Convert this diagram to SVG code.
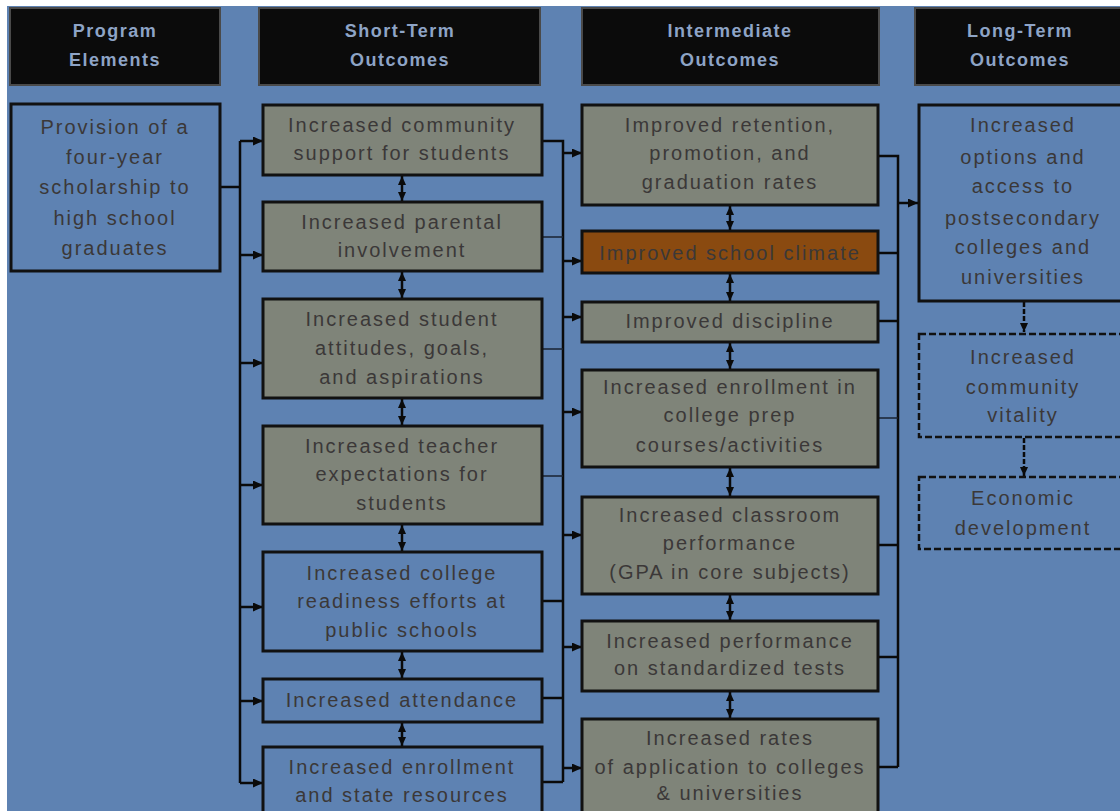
<svg xmlns="http://www.w3.org/2000/svg" width="1120" height="811" viewBox="0 0 1120 811">
<defs>
<marker id="ah" markerUnits="userSpaceOnUse" markerWidth="10" markerHeight="9" viewBox="0 0 10 9" refX="10" refY="4.5" orient="auto-start-reverse"><path d="M0,0 L10,4.5 L0,9 z" fill="#0a0a0a"/></marker>
<marker id="sh" markerUnits="userSpaceOnUse" markerWidth="9" markerHeight="8" viewBox="0 0 9 8" refX="9" refY="4" orient="auto-start-reverse"><path d="M0,0 L9,4 L0,8 z" fill="#0a0a0a"/></marker>
</defs>
<style>
.hd{fill:#0b0b0b;stroke:#4a4a4a;stroke-width:2}
.ht{font-family:"Liberation Sans",Arial,sans-serif;font-weight:bold;font-size:18px;letter-spacing:1.5px;fill:#8ea4c6;text-anchor:middle}
.gb{fill:#7f8479;stroke:#111;stroke-width:3}
.bb{fill:#5e82b2;stroke:#111;stroke-width:3}
.ob{fill:#8a4a10;stroke:#111;stroke-width:3}
.db{fill:#5e82b2;stroke:#111;stroke-width:2.5;stroke-dasharray:7 3}
.t{font-family:"Liberation Sans",Arial,sans-serif;font-size:20px;letter-spacing:2px;fill:#3b3838;text-anchor:middle}
.c{fill:none;stroke:#0a0a0a;stroke-width:2.5}
.cn{fill:none;stroke:#1a2230;stroke-width:1.5}
.a{marker-end:url(#ah)}
.bi{fill:none;stroke:#0a0a0a;stroke-width:2.5;marker-start:url(#sh);marker-end:url(#sh)}
.dd{fill:none;stroke:#0a0a0a;stroke-width:2.5;stroke-dasharray:5 2;marker-end:url(#sh)}
</style>
<rect x="0" y="0" width="1120" height="811" fill="#5e82b2"/>
<rect x="0" y="0" width="1120" height="6" fill="#ffffff"/>
<rect x="0" y="0" width="7" height="811" fill="#ffffff"/>

<g id="headers">
<g id="h-program"><rect class="hd" x="10" y="8" width="210" height="77"/><text class="ht" x="115" y="37">Program</text><text class="ht" x="115" y="66">Elements</text></g>
<g id="h-short"><rect class="hd" x="259" y="8" width="281" height="77"/><text class="ht" x="400" y="37">Short-Term</text><text class="ht" x="400" y="66">Outcomes</text></g>
<g id="h-inter"><rect class="hd" x="582" y="8" width="297" height="77"/><text class="ht" x="730" y="37">Intermediate</text><text class="ht" x="730" y="66">Outcomes</text></g>
<g id="h-long"><rect class="hd" x="915" y="8" width="210" height="77"/><text class="ht" x="1020" y="37">Long-Term</text><text class="ht" x="1020" y="66">Outcomes</text></g>
</g>

<g id="connectors">
<path class="c" d="M220,187 H240"/>
<path class="c" d="M240,141 V783"/>
<path class="c a" d="M240,141 H263"/>
<path class="c a" d="M240,255 H263"/>
<path class="c a" d="M240,363 H263"/>
<path class="c a" d="M240,485 H263"/>
<path class="c a" d="M240,607 H263"/>
<path class="c a" d="M240,701 H263"/>
<path class="c a" d="M240,783 H263"/>

<path class="c" d="M542,141 H563 V782"/>
<path class="cn" d="M542,237 H563"/>
<path class="cn" d="M542,349 H563"/>
<path class="cn" d="M542,476 H563"/>
<path class="c" d="M542,601 H563"/>
<path class="c" d="M542,698 H563"/>
<path class="c" d="M542,782 H563"/>
<path class="c a" d="M563,153 H582"/>
<path class="c a" d="M563,261 H582"/>
<path class="c a" d="M563,317 H582"/>
<path class="c a" d="M563,412 H582"/>
<path class="c a" d="M563,535 H582"/>
<path class="c a" d="M563,647 H582"/>
<path class="c a" d="M563,768 H582"/>

<path class="c" d="M878,156 H898 V767"/>
<path class="c" d="M878,253 H898"/>
<path class="c" d="M878,321 H898"/>
<path class="cn" d="M878,418 H898"/>
<path class="c" d="M878,545 H898"/>
<path class="c" d="M878,657 H898"/>
<path class="c" d="M878,767 H898"/>
<path class="c a" d="M898,203 H918"/>

<path class="bi" d="M402,176 V201"/>
<path class="bi" d="M402,272 V298"/>
<path class="bi" d="M402,399 V425"/>
<path class="bi" d="M402,525 V551"/>
<path class="bi" d="M402,652 V678"/>
<path class="bi" d="M402,723 V746"/>

<path class="bi" d="M730,206 V230"/>
<path class="bi" d="M730,274 V301"/>
<path class="bi" d="M730,343 V369"/>
<path class="bi" d="M730,468 V496"/>
<path class="bi" d="M730,595 V620"/>
<path class="bi" d="M730,692 V718"/>

<path class="dd" d="M1024,302 V332"/>
<path class="dd" d="M1024,438 V476"/>
</g>

<g id="n-provision"><rect class="bb" x="11" y="104" width="209" height="167"/>
<text class="t" x="115" y="134">Provision of a</text><text class="t" x="115" y="164">four-year</text><text class="t" x="115" y="194">scholarship to</text><text class="t" x="115" y="225">high school</text><text class="t" x="115" y="255">graduates</text></g>

<g id="n-s1"><rect class="gb" x="263" y="105" width="279" height="70"/><text class="t" x="402" y="132">Increased community</text><text class="t" x="402" y="160">support for students</text></g>
<g id="n-s2"><rect class="gb" x="263" y="202" width="279" height="69"/><text class="t" x="402" y="229">Increased parental</text><text class="t" x="402" y="257">involvement</text></g>
<g id="n-s3"><rect class="gb" x="263" y="299" width="279" height="99"/><text class="t" x="402" y="326">Increased student</text><text class="t" x="402" y="355">attitudes, goals,</text><text class="t" x="402" y="384">and aspirations</text></g>
<g id="n-s4"><rect class="gb" x="263" y="426" width="279" height="98"/><text class="t" x="402" y="453">Increased teacher</text><text class="t" x="402" y="481">expectations for</text><text class="t" x="402" y="510">students</text></g>
<g id="n-s5"><rect class="bb" x="263" y="552" width="279" height="99"/><text class="t" x="402" y="580">Increased college</text><text class="t" x="402" y="608">readiness efforts at</text><text class="t" x="402" y="637">public schools</text></g>
<g id="n-s6"><rect class="bb" x="263" y="679" width="279" height="43"/><text class="t" x="402" y="707">Increased attendance</text></g>
<g id="n-s7"><rect class="bb" x="263" y="747" width="279" height="70"/><text class="t" x="402" y="774">Increased enrollment</text><text class="t" x="402" y="802">and state resources</text></g>

<g id="n-i1"><rect class="gb" x="582" y="105" width="296" height="100"/><text class="t" x="730" y="132">Improved retention,</text><text class="t" x="730" y="160">promotion, and</text><text class="t" x="730" y="189">graduation rates</text></g>
<g id="n-i2"><rect class="ob" x="582" y="231" width="296" height="42"/><text class="t" x="730" y="260">Improved school climate</text></g>
<g id="n-i3"><rect class="gb" x="582" y="302" width="296" height="40"/><text class="t" x="730" y="328">Improved discipline</text></g>
<g id="n-i4"><rect class="gb" x="582" y="370" width="296" height="97"/><text class="t" x="730" y="394">Increased enrollment in</text><text class="t" x="730" y="422">college prep</text><text class="t" x="730" y="452">courses/activities</text></g>
<g id="n-i5"><rect class="gb" x="582" y="497" width="296" height="97"/><text class="t" x="730" y="522">Increased classroom</text><text class="t" x="730" y="550">performance</text><text class="t" x="730" y="579">(GPA in core subjects)</text></g>
<g id="n-i6"><rect class="gb" x="582" y="621" width="296" height="70"/><text class="t" x="730" y="648">Increased performance</text><text class="t" x="730" y="675">on standardized tests</text></g>
<g id="n-i7"><rect class="gb" x="582" y="719" width="296" height="98"/><text class="t" x="730" y="745">Increased rates</text><text class="t" x="730" y="774">of application to colleges</text><text class="t" x="730" y="800">&amp; universities</text></g>

<g id="n-l1"><rect class="bb" x="919" y="105" width="210" height="196"/><text class="t" x="1023" y="132">Increased</text><text class="t" x="1023" y="164">options and</text><text class="t" x="1023" y="193">access to</text><text class="t" x="1023" y="225">postsecondary</text><text class="t" x="1023" y="254">colleges and</text><text class="t" x="1023" y="284">universities</text></g>
<g id="n-l2"><rect class="db" x="919" y="334" width="210" height="103"/><text class="t" x="1023" y="364">Increased</text><text class="t" x="1023" y="394">community</text><text class="t" x="1023" y="422">vitality</text></g>
<g id="n-l3"><rect class="db" x="919" y="477" width="210" height="72"/><text class="t" x="1023" y="505">Economic</text><text class="t" x="1023" y="535">development</text></g>
</svg>
